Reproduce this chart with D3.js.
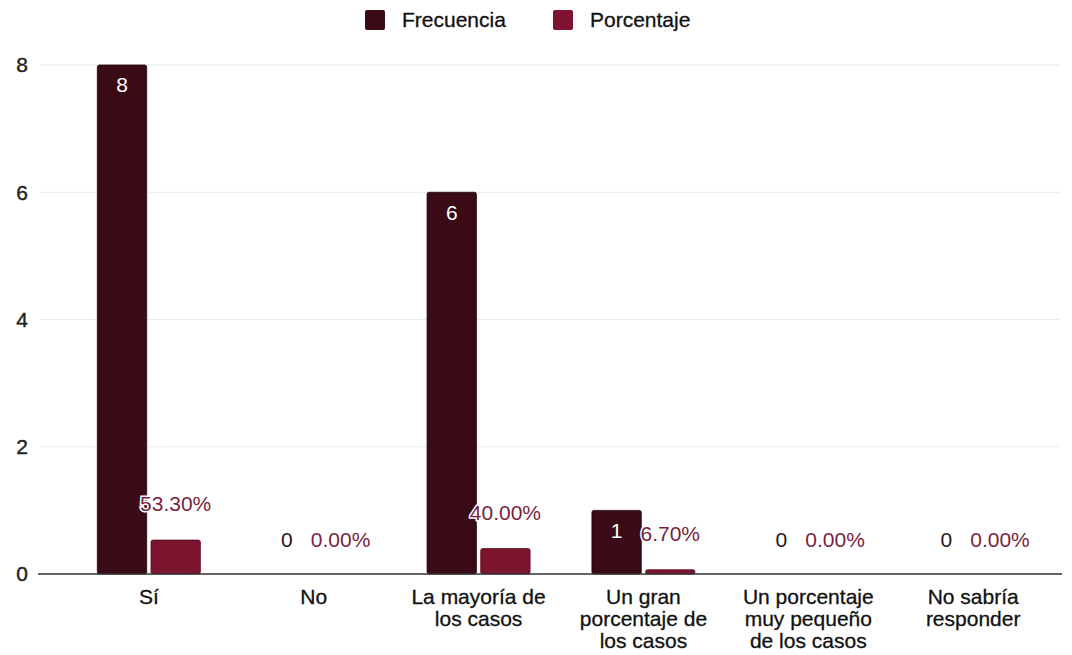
<!DOCTYPE html>
<html>
<head>
<meta charset="utf-8">
<script src="https://cdn.jsdelivr.net/npm/d3@7"></script>
<style>
  body { margin: 0; background: #fff; }
  svg { display: block; font-family: "Liberation Sans", Arial, sans-serif; }
</style>
</head>
<body>
<div id="chart"></div>
<script>
// categories (wrapped labels) and series
const categories = [
  ['Sí'],
  ['No'],
  ['La mayoría de', 'los casos'],
  ['Un gran', 'porcentaje de', 'los casos'],
  ['Un porcentaje', 'muy pequeño', 'de los casos'],
  ['No sabría', 'responder']
];
const frecuencia = [8, 0, 6, 1, 0, 0];
const porcentaje = [0.533, 0, 0.4, 0.067, 0, 0];
const porcentajeLabels = ['53.30%', '0.00%', '40.00%', '6.70%', '0.00%', '0.00%'];
const yTicks = [0, 2, 4, 6, 8];
const seriesNames = ['Frecuencia', 'Porcentaje'];

const colFrec = '#3a0a16';
const colPct = '#7c1430';
const colPctText = '#7a1f3d';
const fs = 21;

const W = 1072, H = 655;
const margin = { top: 65, right: 16, bottom: 81, left: 66 };

const svg = d3.select('#chart').append('svg')
  .attr('width', W)
  .attr('height', H);

const x0 = d3.scaleBand()
  .domain(d3.range(categories.length))
  .range([margin.left, W - margin.right])
  .paddingInner(0.375)
  .paddingOuter(0.19);
const x1 = d3.scaleBand()
  .domain([0, 1])
  .range([0, x0.bandwidth()])
  .paddingInner(0.08);
const y = d3.scaleLinear().domain([0, 8]).range([H - margin.bottom, margin.top]);

// grid
svg.append('g')
  .selectAll('line')
  .data(yTicks.filter(d => d > 0))
  .enter()
  .append('line')
  .attr('x1', 40).attr('x2', 1060)
  .attr('y1', d => y(d)).attr('y2', d => y(d))
  .attr('stroke', '#e6ecef')
  .attr('stroke-width', 1);

// y tick labels
svg.append('g')
  .selectAll('text')
  .data(yTicks)
  .enter()
  .append('text')
  .attr('x', 22)
  .attr('y', d => y(d))
  .attr('dy', '0.35em')
  .attr('text-anchor', 'middle')
  .attr('font-size', fs)
  .attr('fill', '#222')
  .attr('stroke', '#222')
  .attr('stroke-width', 0.4)
  .text(d => d);

// bars
const rows = categories.map((c, i) => ({ i, vals: [frecuencia[i], porcentaje[i]] }));
const groups = svg.append('g')
  .selectAll('g')
  .data(rows)
  .enter()
  .append('g')
  .attr('transform', d => `translate(${x0(d.i)},0)`);

groups.selectAll('rect')
  .data(d => d.vals.map((v, k) => ({ v, k })).filter(e => e.v > 0))
  .enter()
  .append('rect')
  .attr('x', d => x1(d.k))
  .attr('y', d => y(d.v))
  .attr('width', x1.bandwidth())
  .attr('height', d => y(0) - y(d.v))
  .attr('rx', 2)
  .attr('fill', d => d.k === 0 ? colFrec : colPct)
  .attr('stroke', d => d.k === 0 ? '#22050c' : '#5a0c20')
  .attr('stroke-width', 0.8);

// frecuencia labels
groups.append('text')
  .attr('x', d => x1(0) + x1.bandwidth() / 2)
  .attr('y', d => d.vals[0] > 0 ? y(d.vals[0]) + 20 : y(0) - 34)
  .attr('dy', '0.35em')
  .attr('text-anchor', 'middle')
  .attr('font-size', fs)
  .attr('fill', d => d.vals[0] > 0 ? '#fff' : '#2a1418')
  .text(d => frecuencia[d.i]);

// porcentaje labels with white halo
groups.append('text')
  .attr('x', d => x1(1) + x1.bandwidth() / 2)
  .attr('y', d => d.vals[1] > 0 ? y(d.vals[1]) - 36 : y(0) - 34)
  .attr('dy', '0.35em')
  .attr('text-anchor', 'middle')
  .attr('font-size', fs)
  .attr('fill', colPctText)
  .attr('stroke', '#fff')
  .attr('stroke-width', 3)
  .attr('paint-order', 'stroke')
  .text(d => porcentajeLabels[d.i]);

// baseline
svg.append('line')
  .attr('x1', 38).attr('x2', 1062)
  .attr('y1', y(0)).attr('y2', y(0))
  .attr('stroke', '#333')
  .attr('stroke-width', 1.5);

// category labels
const catLabels = svg.append('g')
  .selectAll('text')
  .data(categories)
  .enter()
  .append('text')
  .attr('x', (d, i) => x0(i) + x0.bandwidth() / 2)
  .attr('y', y(0) + 30)
  .attr('text-anchor', 'middle')
  .attr('font-size', fs)
  .attr('fill', '#111')
  .attr('stroke', '#111')
  .attr('stroke-width', 0.3);
catLabels.selectAll('tspan')
  .data(d => d)
  .enter()
  .append('tspan')
  .attr('x', function () { return d3.select(this.parentNode).attr('x'); })
  .attr('dy', (d, i) => i === 0 ? 0 : 22)
  .text(d => d);

// legend
const legend = svg.append('g');
const legendX = [365, 553];
seriesNames.forEach((name, k) => {
  legend.append('rect')
    .attr('x', legendX[k]).attr('y', 10)
    .attr('width', 20).attr('height', 20)
    .attr('rx', 2)
    .attr('fill', k === 0 ? colFrec : colPct);
  legend.append('text')
    .attr('x', legendX[k] + 37).attr('y', 20)
    .attr('dy', '0.35em')
    .attr('font-size', fs)
    .attr('fill', '#111')
    .attr('stroke', '#111')
    .attr('stroke-width', 0.3)
    .text(name);
});
</script>
</body>
</html>
